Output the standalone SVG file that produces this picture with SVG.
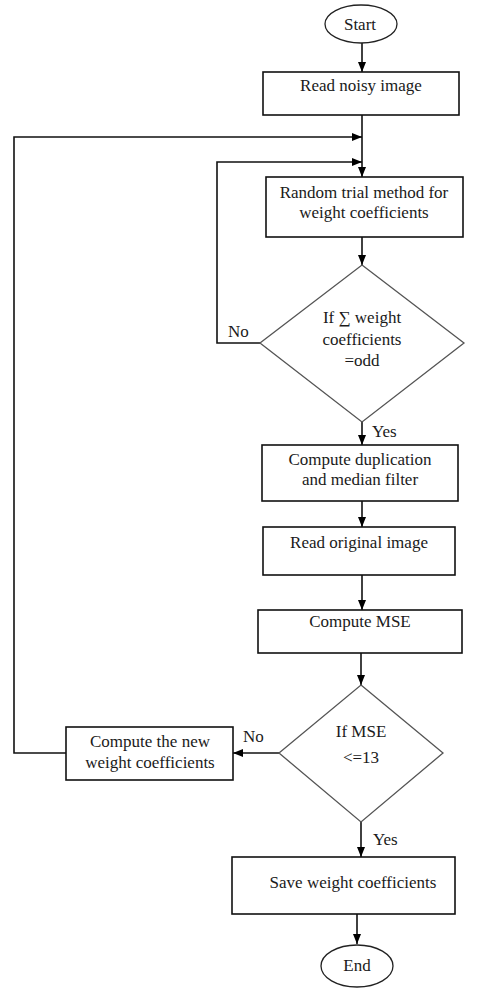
<svg xmlns="http://www.w3.org/2000/svg" width="487" height="989" viewBox="0 0 487 989">
<defs>
<marker id="ah" markerWidth="10" markerHeight="10" viewBox="0 0 10 10" refX="10" refY="5" orient="auto" markerUnits="userSpaceOnUse">
<path d="M0,1 L10,5 L0,9 Z" fill="#000"/>
</marker>
</defs>
<style>
.box{fill:#fff;stroke:#111;stroke-width:1.6}
.dia{fill:#fff;stroke:#555;stroke-width:1.3}
.ell{fill:#fff;stroke:#222;stroke-width:1.3}
.t{font-family:"Liberation Serif","Times New Roman",serif;font-size:17px;fill:#1a1a1a;text-anchor:middle}
.lbl{font-family:"Liberation Serif","Times New Roman",serif;font-size:17px;fill:#1a1a1a}
.c{fill:none;stroke:#111;stroke-width:1.6}
</style>
<rect width="487" height="989" fill="#fff"/>
<g id="connectors">
<line class="c" x1="362" y1="43" x2="362" y2="72" marker-end="url(#ah)"/>
<line class="c" x1="362" y1="115" x2="362" y2="177" marker-end="url(#ah)"/>
<polyline class="c" points="66,753 14,753 14,137 362,137" marker-end="url(#ah)"/>
<polyline class="c" points="260,343 217,343 217,162 362,162" marker-end="url(#ah)"/>
<line class="c" x1="362" y1="237" x2="362" y2="265" marker-end="url(#ah)"/>
<line class="c" x1="362" y1="422" x2="362" y2="445" marker-end="url(#ah)"/>
<line class="c" x1="362" y1="501" x2="362" y2="527" marker-end="url(#ah)"/>
<line class="c" x1="362" y1="575" x2="362" y2="610" marker-end="url(#ah)"/>
<line class="c" x1="361" y1="653" x2="361" y2="685" marker-end="url(#ah)"/>
<line class="c" x1="279" y1="753" x2="233" y2="753" marker-end="url(#ah)"/>
<line class="c" x1="361" y1="822" x2="361" y2="857" marker-end="url(#ah)"/>
<line class="c" x1="357" y1="914" x2="357" y2="944" marker-end="url(#ah)"/>
<text class="lbl" x="228" y="337">No</text>
<text class="lbl" x="372" y="437">Yes</text>
<text class="lbl" x="243" y="742">No</text>
<text class="lbl" x="373" y="845">Yes</text>
</g>
<g id="start">
<ellipse class="ell" cx="361" cy="24" rx="36" ry="19"/>
<text class="t" x="360" y="30">Start</text>
</g>
<g id="read-noisy">
<rect class="box" x="263" y="72" width="196" height="43"/>
<text class="t" x="361" y="91">Read noisy image</text>
</g>
<g id="random-trial">
<rect class="box" x="266" y="177" width="197" height="60"/>
<text class="t" x="364" y="198">Random trial method for</text>
<text class="t" x="364" y="218">weight coefficients</text>
</g>
<g id="decision-odd">
<polygon class="dia" points="362,265 464,343 362,422 260,343"/>
<text class="t" x="362" y="323">If ∑ weight</text>
<text class="t" x="362" y="345">coefficients</text>
<text class="t" x="362" y="366">=odd</text>
</g>
<g id="compute-dup">
<rect class="box" x="262" y="445" width="196" height="56"/>
<text class="t" x="360" y="465">Compute duplication</text>
<text class="t" x="360" y="485">and median filter</text>
</g>
<g id="read-original">
<rect class="box" x="263" y="527" width="192" height="48"/>
<text class="t" x="359" y="548">Read original image</text>
</g>
<g id="compute-mse">
<rect class="box" x="258" y="610" width="204" height="43"/>
<text class="t" x="360" y="627">Compute MSE</text>
</g>
<g id="decision-mse">
<polygon class="dia" points="361,685 443,753 361,822 279,753"/>
<text class="t" x="361" y="737">If MSE</text>
<text class="t" x="361" y="763">&lt;=13</text>
</g>
<g id="compute-new">
<rect class="box" x="66" y="727" width="167" height="53"/>
<text class="t" x="150" y="747">Compute the new</text>
<text class="t" x="150" y="768">weight coefficients</text>
</g>
<g id="save">
<rect class="box" x="232" y="857" width="223" height="57"/>
<text class="t" x="353" y="888">Save weight coefficients</text>
</g>
<g id="end">
<ellipse class="ell" cx="357" cy="966" rx="36" ry="21"/>
<text class="t" x="357" y="971">End</text>
</g>
</svg>
